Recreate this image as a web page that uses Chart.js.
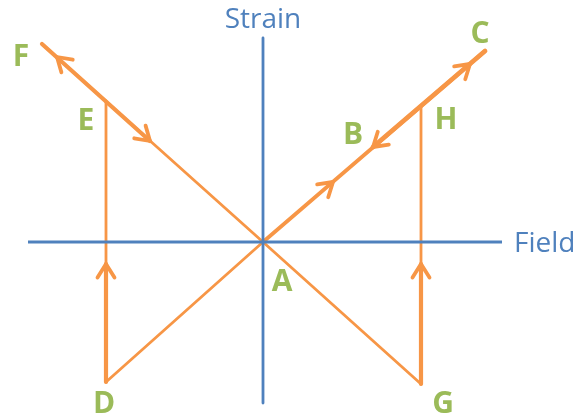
<!DOCTYPE html>
<html><head><meta charset="utf-8">
<script src="https://cdn.jsdelivr.net/npm/chart.js@4/dist/chart.umd.min.js"></script>
<style>html,body{margin:0;padding:0;background:#fff}#wrap{width:577px;height:417px}</style>
</head><body><div id="wrap"><canvas id="c" width="577" height="417"></canvas></div>
<script>
// ---- Data (Field on x, Strain on y; origin A at 0,0) ----
const fieldAxis  = [[-235, 0], [239, 0]];
const strainAxis = [[0, 204], [0, -161]];
const lineFAG    = [[-221, 198], [0, 0], [158, -142]];   // F -> A -> G
const lineDA     = [[-157, -140], [0, 0]];               // D -> A
const lineAC     = [[0, 0], [222, 191]];                 // A -> C
const lineED     = [[-157, 141], [-157, -140]];          // E -> D
const lineHG     = [[158, 136], [158, -142]];            // H -> G
const thickFE    = [[-221, 198], [-113, 101]];           // F ... E section
const thickBC    = [[110, 95], [222, 191]];              // B ... C section
const thickD     = [[-157, -140], [-157, -22]];
const thickG     = [[158, -142], [158, -22]];
// arrows: tip point and a point behind it (direction from -> tip)
const arrowTips  = [[-206, 185], [-113, 101], [70, 60], [110, 95], [207, 178], [-157, -22], [158, -22]];
const arrowFrom  = [[0, 0], [-221, 198], [0, 0], [222, 191], [0, 0], [-157, -140], [158, -142]];
// point labels
const labelText  = ['F', 'E', 'C', 'H', 'B', 'A', 'D', 'G'];
const labelPos   = [[-242, 176], [-177, 112], [217, 199], [183, 113], [90, 98], [19, -49], [-159, -171], [180, -171]];
// axis titles
const axisTitles = ['Strain', 'Field'];
const axisTitlePos = [[0, 214], [251, -10]];

const BLUE = '#4F81BD', ORANGE = '#F79646', GREEN = '#9BBB59';
const pts = a => a.map(([x, y]) => ({x, y}));
const ds = (data, color, w, cap) => ({
  data: pts(data), borderColor: color, borderWidth: w, showLine: true,
  pointRadius: 0, borderCapStyle: cap || 'round', borderJoinStyle: 'round', fill: false, tension: 0
});

const overlay = {
  id: 'overlay',
  afterDatasetsDraw(chart) {
    const {ctx, scales: {x, y}} = chart;
    ctx.save();
    ctx.strokeStyle = ORANGE; ctx.lineWidth = 3.8; ctx.lineCap = 'round'; ctx.lineJoin = 'round';
    arrowTips.forEach((t, i) => {
      const tx = x.getPixelForValue(t[0]), ty = y.getPixelForValue(t[1]);
      const f = arrowFrom[i];
      const fx = x.getPixelForValue(f[0]), fy = y.getPixelForValue(f[1]);
      const ang = Math.atan2(ty - fy, tx - fx);
      const L = 16, h = 0.56;
      ctx.beginPath();
      ctx.moveTo(tx - L * Math.cos(ang - h), ty - L * Math.sin(ang - h));
      ctx.lineTo(tx, ty);
      ctx.lineTo(tx - L * Math.cos(ang + h), ty - L * Math.sin(ang + h));
      ctx.stroke();
    });
    ctx.fillStyle = GREEN; ctx.font = 'bold 30px "Open Sans"';
    ctx.textAlign = 'center'; ctx.textBaseline = 'alphabetic';
    labelText.forEach((s, i) => {
      ctx.fillText(s, x.getPixelForValue(labelPos[i][0]), y.getPixelForValue(labelPos[i][1]));
    });
    ctx.fillStyle = BLUE; ctx.font = '28px "Open Sans"';
    ctx.textAlign = 'center';
    ctx.fillText(axisTitles[0], x.getPixelForValue(axisTitlePos[0][0]), y.getPixelForValue(axisTitlePos[0][1]));
    ctx.textAlign = 'left';
    ctx.fillText(axisTitles[1], x.getPixelForValue(axisTitlePos[1][0]), y.getPixelForValue(axisTitlePos[1][1]));
    ctx.restore();
  }
};

new Chart(document.getElementById('c'), {
  type: 'scatter',
  data: { datasets: [
    ds(fieldAxis, BLUE, 2.8, 'butt'),
    ds(strainAxis, BLUE, 2.8, 'butt'),
    ds(lineFAG, ORANGE, 2.8),
    ds(lineDA, ORANGE, 2.8),
    ds(lineAC, ORANGE, 3.8),
    ds(lineED, ORANGE, 2.8),
    ds(lineHG, ORANGE, 2.8),
    ds(thickFE, ORANGE, 4.2),
    ds(thickBC, ORANGE, 4.8),
    ds(thickD, ORANGE, 4.2),
    ds(thickG, ORANGE, 4.2)
  ]},
  options: {
    responsive: false, animation: false, devicePixelRatio: 1,
    layout: { padding: 0 },
    plugins: { legend: { display: false }, tooltip: { enabled: false } },
    scales: {
      x: { type: 'linear', min: -263, max: 314, display: false },
      y: { type: 'linear', min: -175, max: 242, display: false }
    }
  },
  plugins: [overlay]
});
</script></body></html>
